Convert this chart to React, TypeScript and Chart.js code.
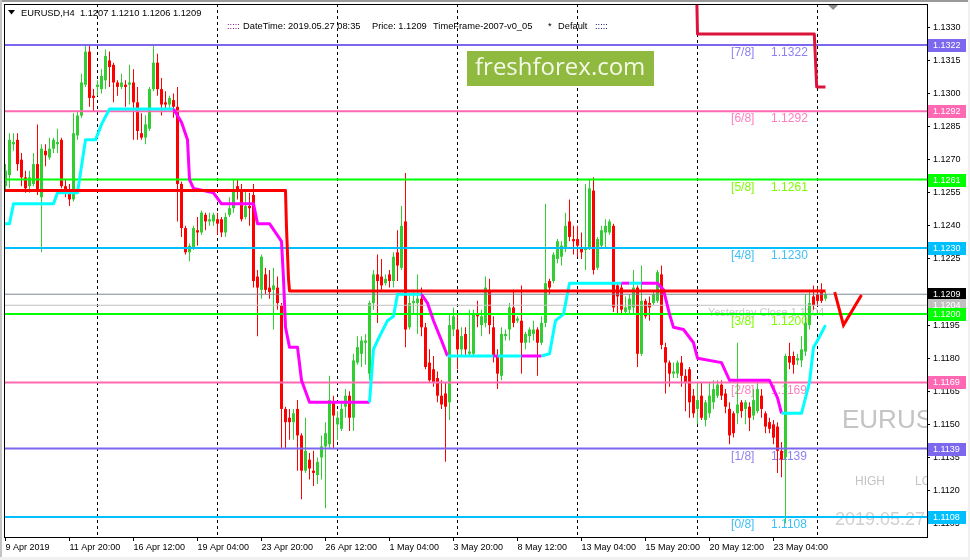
import React, { useEffect, useRef } from 'react';
import { Chart, registerables } from 'chart.js';
Chart.register(...registerables);

// ---------------- DATA ----------------
const opens = [
  1.1258, 1.1263, 1.1277, 1.1279, 1.1270, 1.1262, 1.1258, 1.1259, 1.1268, 1.1253,
  1.1274, 1.1271, 1.1275, 1.1277, 1.1279, 1.1258, 1.1255, 1.1252, 1.1281, 1.1290,
  1.1304, 1.1319, 1.1299, 1.1303, 1.1302, 1.1306, 1.1315, 1.1313, 1.1305, 1.1303,
  1.1304, 1.1304, 1.1305, 1.1296, 1.1282, 1.1280, 1.1284, 1.1302, 1.1314, 1.1302,
  1.1296, 1.1295, 1.1297, 1.1294, 1.1259, 1.1239, 1.1228, 1.1230, 1.1238, 1.1237,
  1.1245, 1.1242, 1.1242, 1.1243, 1.1243, 1.1237, 1.1245, 1.1248, 1.1258, 1.1256,
  1.1244, 1.1249, 1.1254, 1.1217, 1.1211, 1.1218, 1.1212, 1.1211, 1.1212, 1.1204,
  1.1157, 1.1153, 1.1151, 1.1157, 1.1145, 1.1129, 1.1134, 1.1129, 1.1127, 1.1135,
  1.1140, 1.1141, 1.1160, 1.1150, 1.1148, 1.1158, 1.1163, 1.1153, 1.1178, 1.1182,
  1.1187, 1.1173, 1.1205, 1.1218, 1.1217, 1.1214, 1.1218, 1.1215, 1.1228, 1.1221,
  1.1242, 1.1194, 1.1205, 1.1205, 1.1207, 1.1194, 1.1178, 1.1175, 1.1171, 1.1163,
  1.1164, 1.1160, 1.1193, 1.1193, 1.1184, 1.1191, 1.1182, 1.1182, 1.1200, 1.1195,
  1.1196, 1.1211, 1.1194, 1.1181, 1.1172, 1.1190, 1.1193, 1.1203, 1.1197, 1.1197,
  1.1187, 1.1190, 1.1191, 1.1193, 1.1187, 1.1196, 1.1215, 1.1215, 1.1225, 1.1226,
  1.1230, 1.1242, 1.1234, 1.1234, 1.1230, 1.1229, 1.1230, 1.1256, 1.1221, 1.1231,
  1.1237, 1.1237, 1.1240, 1.1213, 1.1212, 1.1201, 1.1202, 1.1203, 1.1212, 1.1182,
  1.1206, 1.1205, 1.1205, 1.1206, 1.1218, 1.1185, 1.1178, 1.1173, 1.1173, 1.1178,
  1.1172, 1.1175, 1.1163, 1.1157, 1.1163, 1.1152, 1.1155, 1.1160, 1.1163, 1.1168,
  1.1164, 1.1157, 1.1155, 1.1155, 1.1160, 1.1157, 1.1158, 1.1154, 1.1156, 1.1163,
  1.1155, 1.1151, 1.1150, 1.1149, 1.1138, 1.1135, 1.1181, 1.1181, 1.1179, 1.1179,
  1.1183, 1.1195, 1.1208, 1.1209, 1.1210, 1.1207,
];
const highs = [
  1.1268, 1.1282, 1.1282, 1.1282, 1.1273, 1.1265, 1.1265, 1.1273, 1.1286, 1.1277,
  1.1277, 1.1280, 1.1280, 1.1284, 1.1280, 1.1261, 1.1259, 1.1291, 1.1292, 1.1309,
  1.1322, 1.1322, 1.1302, 1.1306, 1.1311, 1.1320, 1.1319, 1.1314, 1.1306, 1.1309,
  1.1306, 1.1313, 1.1311, 1.1303, 1.1291, 1.1290, 1.1303, 1.1322, 1.1318, 1.1307,
  1.1301, 1.1299, 1.1300, 1.1303, 1.1260, 1.1240, 1.1232, 1.1240, 1.1244, 1.1247,
  1.1246, 1.1246, 1.1246, 1.1246, 1.1244, 1.1246, 1.1253, 1.1261, 1.1261, 1.1259,
  1.1256, 1.1255, 1.1259, 1.1220, 1.1227, 1.1221, 1.1220, 1.1221, 1.1217, 1.1205,
  1.1158, 1.1157, 1.1157, 1.1161, 1.1146, 1.1153, 1.1137, 1.1138, 1.1135, 1.1145,
  1.1151, 1.1172, 1.1163, 1.1156, 1.1160, 1.1166, 1.1165, 1.1182, 1.1190, 1.1190,
  1.1191, 1.1206, 1.1220, 1.1227, 1.1225, 1.1218, 1.1220, 1.1228, 1.1238, 1.1249,
  1.1264, 1.1209, 1.1211, 1.1218, 1.1212, 1.1196, 1.1184, 1.1181, 1.1174, 1.1170,
  1.1169, 1.1200, 1.1203, 1.1200, 1.1194, 1.1194, 1.1202, 1.1202, 1.1206, 1.1202,
  1.1217, 1.1216, 1.1199, 1.1184, 1.1194, 1.1193, 1.1205, 1.1211, 1.1199, 1.1213,
  1.1192, 1.1194, 1.1197, 1.1194, 1.1199, 1.1250, 1.1216, 1.1228, 1.1234, 1.1233,
  1.1246, 1.1252, 1.1240, 1.1240, 1.1237, 1.1259, 1.1261, 1.1262, 1.1235, 1.1240,
  1.1243, 1.1243, 1.1241, 1.1214, 1.1214, 1.1208, 1.1209, 1.1220, 1.1213, 1.1222,
  1.1207, 1.1208, 1.1210, 1.1220, 1.1222, 1.1187, 1.1179, 1.1178, 1.1179, 1.1181,
  1.1175, 1.1176, 1.1166, 1.1169, 1.1169, 1.1161, 1.1169, 1.1170, 1.1170, 1.1170,
  1.1166, 1.1160, 1.1156, 1.1187, 1.1161, 1.1161, 1.1160, 1.1166, 1.1169, 1.1166,
  1.1156, 1.1153, 1.1152, 1.1151, 1.1142, 1.1182, 1.1187, 1.1183, 1.1182, 1.1190,
  1.1209, 1.1211, 1.1213, 1.1212, 1.1214, 1.1210,
];
const lows = [
  1.1256, 1.1257, 1.1274, 1.1265, 1.1258, 1.1255, 1.1255, 1.1258, 1.1254, 1.1228,
  1.1267, 1.1270, 1.1273, 1.1273, 1.1257, 1.1253, 1.1249, 1.1251, 1.1279, 1.1289,
  1.1303, 1.1294, 1.1292, 1.1299, 1.1300, 1.1302, 1.1303, 1.1296, 1.1299, 1.1302,
  1.1294, 1.1295, 1.1279, 1.1279, 1.1279, 1.1277, 1.1283, 1.1301, 1.1299, 1.1290,
  1.1293, 1.1293, 1.1289, 1.1242, 1.1235, 1.1227, 1.1224, 1.1229, 1.1231, 1.1236,
  1.1238, 1.1240, 1.1240, 1.1236, 1.1235, 1.1235, 1.1244, 1.1246, 1.1252, 1.1242,
  1.1243, 1.1240, 1.1212, 1.1190, 1.1207, 1.1209, 1.1207, 1.1193, 1.1202, 1.1139,
  1.1139, 1.1143, 1.1143, 1.1129, 1.1116, 1.1128, 1.1125, 1.1122, 1.1123, 1.1125,
  1.1112, 1.1139, 1.1139, 1.1143, 1.1147, 1.1153, 1.1147, 1.1147, 1.1177, 1.1176,
  1.1177, 1.1170, 1.1202, 1.1196, 1.1211, 1.1213, 1.1212, 1.1212, 1.1215, 1.1220,
  1.1185, 1.1193, 1.1200, 1.1191, 1.1190, 1.1175, 1.1169, 1.1167, 1.1160, 1.1157,
  1.1133, 1.1152, 1.1190, 1.1175, 1.1181, 1.1181, 1.1181, 1.1181, 1.1194, 1.1190,
  1.1194, 1.1191, 1.1178, 1.1166, 1.1170, 1.1188, 1.1188, 1.1194, 1.1196, 1.1173,
  1.1184, 1.1187, 1.1188, 1.1172, 1.1186, 1.1194, 1.1209, 1.1214, 1.1223, 1.1222,
  1.1228, 1.1233, 1.1227, 1.1226, 1.1225, 1.1220, 1.1229, 1.1218, 1.1220, 1.1230,
  1.1230, 1.1236, 1.1201, 1.1200, 1.1200, 1.1200, 1.1200, 1.1200, 1.1176, 1.1181,
  1.1198, 1.1197, 1.1204, 1.1205, 1.1184, 1.1164, 1.1167, 1.1171, 1.1171, 1.1167,
  1.1156, 1.1153, 1.1153, 1.1150, 1.1152, 1.1149, 1.1153, 1.1157, 1.1162, 1.1161,
  1.1155, 1.1141, 1.1144, 1.1150, 1.1153, 1.1150, 1.1147, 1.1152, 1.1155, 1.1153,
  1.1146, 1.1146, 1.1141, 1.1128, 1.1126, 1.1105, 1.1175, 1.1173, 1.1177, 1.1176,
  1.1181, 1.1193, 1.1202, 1.1204, 1.1205, 1.1206,
];
const closes = [
  1.1265, 1.1279, 1.1278, 1.1268, 1.1262, 1.1257, 1.1262, 1.1268, 1.1256, 1.1275,
  1.1272, 1.1275, 1.1279, 1.1278, 1.1258, 1.1256, 1.1252, 1.1282, 1.1290, 1.1305,
  1.1319, 1.1298, 1.1298, 1.1304, 1.1308, 1.1317, 1.1312, 1.1305, 1.1303, 1.1305,
  1.1303, 1.1305, 1.1296, 1.1283, 1.1280, 1.1286, 1.1302, 1.1314, 1.1302, 1.1295,
  1.1295, 1.1298, 1.1294, 1.1259, 1.1239, 1.1228, 1.1231, 1.1239, 1.1237, 1.1246,
  1.1242, 1.1243, 1.1245, 1.1241, 1.1237, 1.1244, 1.1248, 1.1256, 1.1256, 1.1243,
  1.1249, 1.1248, 1.1215, 1.1212, 1.1226, 1.1211, 1.1210, 1.1213, 1.1205, 1.1157,
  1.1151, 1.1151, 1.1155, 1.1145, 1.1129, 1.1138, 1.1130, 1.1128, 1.1133, 1.1140,
  1.1146, 1.1161, 1.1154, 1.1153, 1.1157, 1.1163, 1.1153, 1.1179, 1.1185, 1.1188,
  1.1188, 1.1205, 1.1218, 1.1215, 1.1213, 1.1216, 1.1215, 1.1226, 1.1222, 1.1240,
  1.1193, 1.1205, 1.1206, 1.1207, 1.1194, 1.1176, 1.1170, 1.1169, 1.1163, 1.1159,
  1.1158, 1.1195, 1.1199, 1.1184, 1.1190, 1.1184, 1.1183, 1.1200, 1.1199, 1.1199,
  1.1212, 1.1195, 1.1181, 1.1173, 1.1191, 1.1191, 1.1203, 1.1196, 1.1198, 1.1187,
  1.1191, 1.1193, 1.1193, 1.1187, 1.1196, 1.1214, 1.1212, 1.1227, 1.1233, 1.1231,
  1.1240, 1.1235, 1.1233, 1.1231, 1.1228, 1.1230, 1.1257, 1.1220, 1.1234, 1.1238,
  1.1240, 1.1242, 1.1203, 1.1208, 1.1202, 1.1203, 1.1207, 1.1212, 1.1182, 1.1206,
  1.1199, 1.1203, 1.1209, 1.1219, 1.1186, 1.1178, 1.1173, 1.1174, 1.1178, 1.1172,
  1.1169, 1.1160, 1.1155, 1.1161, 1.1153, 1.1160, 1.1163, 1.1166, 1.1168, 1.1163,
  1.1158, 1.1145, 1.1146, 1.1159, 1.1156, 1.1160, 1.1153, 1.1161, 1.1166, 1.1157,
  1.1149, 1.1148, 1.1144, 1.1138, 1.1134, 1.1181, 1.1178, 1.1177, 1.1180, 1.1184,
  1.1196, 1.1205, 1.1204, 1.1206, 1.1206, 1.1209,
];

const xTickBars = [0, 16, 32, 48, 64, 80, 96, 112, 128, 144, 160, 176, 192];
const xTickLabels = [
  '9 Apr 2019', '11 Apr 20:00', '16 Apr 12:00', '19 Apr 04:00', '23 Apr 20:00',
  '26 Apr 12:00', '1 May 04:00', '3 May 20:00', '8 May 12:00', '13 May 04:00',
  '15 May 20:00', '20 May 12:00', '23 May 04:00',
];
const yTickValues = [
  1.1105, 1.1120, 1.1135, 1.1150, 1.1165, 1.1180, 1.1195, 1.1210,
  1.1225, 1.1240, 1.1255, 1.1270, 1.1285, 1.1300, 1.1315, 1.1330,
];
const gridBars = [23, 53, 83, 113, 143, 173, 203];

const murreyLevels = [1.1322, 1.1292, 1.1261, 1.1230, 1.1200, 1.1169, 1.1139, 1.1108];
const murreyNames = ['[7/8]', '[6/8]', '[5/8]', '[4/8]', '[3/8]', '[2/8]', '[1/8]', '[0/8]'];
const bidPrice = 1.1209;
const yesterdayClose = 1.1204;

const redStepX = [-0.375, 70, 70.25, 70.75, 71, 205];
const redStepY = [1.1256, 1.1256, 1.1239, 1.1216, 1.12105, 1.12105];
const crimsonX = [172.8, 173, 202.2, 202.8, 205];
const crimsonY = [1.1345, 1.1327, 1.1327, 1.1303, 1.1303];

const trendX = [
  -0.375, 1, 2, 12, 13, 18, 20, 22.5, 24, 26, 42, 44, 45.5, 46, 47, 52, 54, 62, 63, 66,
  69, 69.5, 70, 71, 73, 74, 76, 91, 92, 93, 95.5, 97, 98, 104, 105.5, 107, 109, 110.5,
  122, 123, 129, 134, 136, 137.5, 139.5, 141, 154, 156, 159, 163, 164.5, 166, 167,
  169.5, 172, 173, 179, 181, 191, 193, 194, 199, 201, 202, 203, 205,
];
const trendY = [
  1.1241, 1.1241, 1.1250, 1.1250, 1.1255, 1.1255, 1.1279, 1.1279, 1.1286, 1.1293,
  1.1293, 1.1287, 1.1279, 1.1261, 1.1257, 1.1255, 1.1250, 1.1250, 1.1241, 1.1241,
  1.1233, 1.1216, 1.1194, 1.1185, 1.1185, 1.1170, 1.1160, 1.1160, 1.1184, 1.1188,
  1.1197, 1.1199, 1.1209, 1.1209, 1.1205, 1.1197, 1.1188, 1.1181,
  1.1181, 1.1181, 1.1181, 1.1181, 1.1182, 1.1197, 1.1200, 1.1214, 1.1214, 1.1214,
  1.1214, 1.1214, 1.1211, 1.1200, 1.1194, 1.1193, 1.1187, 1.1180, 1.1178, 1.1170,
  1.1170, 1.1162, 1.1155, 1.1155, 1.1169, 1.1185, 1.1188, 1.1195,
];
// 1 = up (cyan) segment, 0 = down (magenta) segment, starting at each vertex
const trendUp = [
  1, 1, 1, 1, 1, 1, 1, 1, 1, 1, 0, 0, 0, 0, 0, 0, 0, 0, 0, 0,
  0, 0, 0, 0, 0, 0, 0, 1, 1, 1, 1, 1, 1, 0, 0, 0, 0, 1,
  0, 1, 0, 1, 1, 1, 1, 1, 0, 1, 0, 0, 0, 0, 0,
  0, 0, 0, 0, 0, 0, 0, 1, 1, 1, 1, 1, 1,
];
const vMarkX = [207.3, 209.5, 214];
const vMarkY = [1.1210, 1.1195, 1.12087];

const priceTagValues = [1.1322, 1.1292, 1.1261, 1.1230, 1.1209, 1.1204, 1.1200, 1.1169, 1.1139, 1.1108];

// ---------------- STYLE ----------------
const X_MIN = -0.375;
const X_MAX = 230.375;
const Y_MIN = 1.109893;
const Y_MAX = 1.134059;
const FONT = '"Liberation Sans", Arial, sans-serif';
const GREEN = '#32cd32';
const RED = '#ff0000';
const murreyColors = ['#7b68ee', '#ff69b4', '#00ff00', '#00bfff', '#00ff00', '#ff69b4', '#7b68ee', '#00bfff'];
const murreyTextColors = ['#8f80f2', '#ff7fbf', '#7cfc00', '#3fbff5', '#7cfc00', '#ff7fbf', '#8f80f2', '#3fbff5'];
const priceTagColors = ['#7b68ee', '#ff69b4', '#00ff00', '#00bfff', '#000000', '#c0c0c0', '#00ff00', '#ff69b4', '#7b68ee', '#00bfff'];

const mtPlugin = {
  id: 'mt4look',
  beforeDraw(chart: any) {
    const ctx = chart.ctx;
    ctx.save();
    ctx.fillStyle = '#ffffff';
    ctx.fillRect(0, 0, chart.width, chart.height);
    ctx.fillStyle = '#9a9a9a';
    ctx.fillRect(0, 0, chart.width, 2);
    ctx.fillStyle = '#c4c4c4';
    ctx.fillRect(0, 0, 2, chart.height);
    ctx.fillStyle = '#f0f0f0';
    ctx.fillRect(0, chart.height - 3, chart.width, 3);
    ctx.fillRect(chart.width - 2, 0, 2, chart.height);
    ctx.restore();
  },
  beforeDatasetsDraw(chart: any) {
    const ctx = chart.ctx;
    const ca = chart.chartArea;
    const xs = chart.scales.x;
    const ys = chart.scales.y;
    ctx.save();
    ctx.beginPath();
    ctx.rect(ca.left, ca.top, ca.right - ca.left, ca.bottom - ca.top);
    ctx.clip();
    // dashed vertical grid
    ctx.strokeStyle = '#000';
    ctx.lineWidth = 1;
    ctx.setLineDash([3, 3]);
    gridBars.forEach((b) => {
      const px = xs.getPixelForValue(b);
      ctx.beginPath();
      ctx.moveTo(px, ca.top);
      ctx.lineTo(px, ca.bottom);
      ctx.stroke();
    });
    ctx.setLineDash([]);
    // watermark texts
    ctx.textBaseline = 'middle';
    ctx.textAlign = 'left';
    ctx.fillStyle = '#c4c4c4';
    ctx.font = `26px ${FONT}`;
    ctx.fillText('EURUSD', 842, 421);
    ctx.font = `12px ${FONT}`;
    ctx.fillText('HIGH', 855, 482);
    ctx.fillText('LOW', 915, 482);
    ctx.fillStyle = '#d0d0d0';
    ctx.font = `18px ${FONT}`;
    ctx.fillText('2019.05.27 08:35', 835, 520);
    // murrey labels
    ctx.font = `12px ${FONT}`;
    murreyLevels.forEach((lv, k) => {
      const py = ys.getPixelForValue(lv) + 8;
      ctx.fillStyle = murreyTextColors[k];
      ctx.fillText(murreyNames[k], xs.getPixelForValue(181.4), py);
      ctx.fillText(lv.toFixed(4), xs.getPixelForValue(191.4), py);
    });
    // yesterday close
    ctx.font = `11px ${FONT}`;
    ctx.fillStyle = '#c8c8c8';
    ctx.fillText('Yesterday Close ' + yesterdayClose.toFixed(4), xs.getPixelForValue(175.6), ys.getPixelForValue(yesterdayClose) + 8);
    ctx.restore();
  },
  afterDatasetsDraw(chart: any) {
    const ctx = chart.ctx;
    const ca = chart.chartArea;
    const ys = chart.scales.y;
    const xs = chart.scales.x;
    ctx.save();
    // frame
    ctx.strokeStyle = '#000';
    ctx.lineWidth = 1;
    ctx.strokeRect(ca.left + 0.5, ca.top + 0.5, ca.right - ca.left, ca.bottom - ca.top);
    // shift marker
    const sx = xs.getPixelForValue(206.9);
    ctx.fillStyle = '#8c8c8c';
    ctx.beginPath();
    ctx.moveTo(sx - 5, ca.top + 1);
    ctx.lineTo(sx + 5, ca.top + 1);
    ctx.lineTo(sx, ca.top + 6);
    ctx.closePath();
    ctx.fill();
    // price tags on the axis
    ctx.font = `9px ${FONT}`;
    ctx.textBaseline = 'middle';
    ctx.textAlign = 'left';
    priceTagValues.forEach((v, k) => {
      const py = Math.round(ys.getPixelForValue(v));
      ctx.fillStyle = priceTagColors[k];
      ctx.fillRect(ca.right + 1, py - 6, 38, 13);
      ctx.fillStyle = '#ffffff';
      ctx.fillText(v.toFixed(4), ca.right + 6, py + 0.5);
    });
    // header
    const n = closes.length - 1;
    ctx.fillStyle = '#000';
    ctx.beginPath();
    ctx.moveTo(8, 10);
    ctx.lineTo(15, 10);
    ctx.lineTo(11.5, 14.5);
    ctx.closePath();
    ctx.fill();
    ctx.font = `9.3px ${FONT}`;
    ctx.fillText(
      `EURUSD,H4  ${opens[n].toFixed(4)} ${highs[n].toFixed(4)} ${lows[n].toFixed(4)} ${closes[n].toFixed(4)}`,
      21, 13,
    );
    ctx.fillStyle = '#800080';
    ctx.fillText(':::::', 227, 26);
    ctx.fillStyle = '#000';
    ctx.fillText('DateTime: 2019.05.27 08:35', 243, 26);
    ctx.fillText('Price: ' + bidPrice.toFixed(4), 372, 26);
    ctx.fillText('TimeFrame-2007-v0_05', 433, 26);
    ctx.fillText('*', 548, 26);
    ctx.fillText('Default', 558, 26);
    ctx.fillStyle = '#000060';
    ctx.fillText(':::::', 595, 26);
    // logo box
    ctx.fillStyle = '#8fb93f';
    ctx.fillRect(467, 51, 187, 35);
    ctx.fillStyle = '#f4f9e8';
    ctx.font = `24px "Open Sans", ${FONT}`;
    ctx.fillText('freshforex.com', 475, 68.5);
    ctx.restore();
  },
};

function lineDs(xv: number[], yv: number[], color: string, width: number, order: number, extra: any = {}) {
  return {
    type: 'line',
    data: xv.map((x, i) => ({ x, y: yv[i] })),
    borderColor: color,
    borderWidth: width,
    pointRadius: 0,
    pointHoverRadius: 0,
    tension: 0,
    fill: false,
    order,
    clip: 0,
    borderJoinStyle: 'round',
    ...extra,
  };
}

export default function App() {
  const ref = useRef<HTMLCanvasElement>(null);
  useEffect(() => {
    const isUp = opens.map((o, i) => closes[i] >= o);
    const datasets: any[] = [
      {
        type: 'bar',
        data: opens.map((_, i) => ({ x: i, y: [lows[i], highs[i]] })),
        backgroundColor: isUp.map((u) => (u ? GREEN : RED)),
        borderWidth: 0,
        barThickness: 1,
        grouped: false,
        inflateAmount: 0,
        order: 30,
      },
      {
        type: 'bar',
        data: opens.map((o, i) => ({ x: i, y: [o, closes[i]] })),
        backgroundColor: isUp.map((u) => (u ? GREEN : RED)),
        borderWidth: 0,
        barThickness: 3,
        grouped: false,
        inflateAmount: 0,
        minBarLength: 1,
        order: 29,
      },
    ];
    datasets.push(lineDs([X_MIN, X_MAX], [yesterdayClose, yesterdayClose], '#c0c0c0', 1, 21));
    datasets.push(lineDs([X_MIN, X_MAX], [bidPrice, bidPrice], '#7f8790', 1, 20));
    murreyLevels.forEach((lv, k) => {
      datasets.push(lineDs([X_MIN, X_MAX], [lv, lv], murreyColors[k], 2, 15));
    });
    datasets.push(
      lineDs(trendX, trendY, '#00ffff', 3, 8, {
        segment: { borderColor: (c: any) => (trendUp[c.p0DataIndex] ? '#00ffff' : '#ff00ff') },
      }),
    );
    datasets.push(lineDs(redStepX, redStepY, '#ff0000', 3, 6));
    datasets.push(lineDs(crimsonX, crimsonY, '#dc143c', 3, 6));
    datasets.push(lineDs(vMarkX, vMarkY, '#ff0000', 3, 5, { borderJoinStyle: 'miter' }));

    const chart = new Chart(ref.current as HTMLCanvasElement, {
      type: 'bar',
      data: { datasets },
      plugins: [mtPlugin],
      options: {
        animation: false,
        responsive: false,
        devicePixelRatio: 1,
        events: [],
        layout: { padding: { left: 4, top: 4, right: 0, bottom: 0 }, autoPadding: false },
        plugins: { legend: { display: false }, tooltip: { enabled: false }, title: { display: false } },
        scales: {
          x: {
            type: 'linear',
            min: X_MIN,
            max: X_MAX,
            offset: false,
            grid: { display: true, drawOnChartArea: false, drawTicks: true, tickLength: 4, color: '#000', offset: false },
            border: { display: false },
            afterBuildTicks: (s: any) => {
              s.ticks = xTickBars.map((v) => ({ value: v }));
            },
            afterFit: (s: any) => {
              s.height = 23;
              s.paddingLeft = 0;
              s.paddingRight = 0;
            },
            ticks: {
              autoSkip: false,
              maxRotation: 0,
              minRotation: 0,
              align: 'start',
              padding: 1,
              color: '#000',
              font: { family: FONT, size: 9 },
              callback: (_v: any, i: number) => xTickLabels[i] ?? '',
            },
          },
          y: {
            type: 'linear',
            position: 'right',
            min: Y_MIN,
            max: Y_MAX,
            beginAtZero: false,
            grid: { display: true, drawOnChartArea: false, drawTicks: true, tickLength: 3, color: '#000' },
            border: { display: false },
            afterBuildTicks: (s: any) => {
              s.ticks = yTickValues.map((v) => ({ value: v }));
            },
            afterFit: (s: any) => {
              s.width = 43;
              s.paddingTop = 0;
              s.paddingBottom = 0;
            },
            ticks: {
              autoSkip: false,
              padding: 3,
              color: '#000',
              font: { family: FONT, size: 9 },
              callback: (v: any) => Number(v).toFixed(4),
            },
          },
        },
      } as any,
    } as any);
    return () => chart.destroy();
  }, []);
  return (
    <div style={{ position: 'fixed', left: 0, top: 0, width: 970, height: 560, background: '#fff' }}>
      <canvas ref={ref} width={970} height={560} style={{ display: 'block', width: 970, height: 560 }} />
    </div>
  );
}
